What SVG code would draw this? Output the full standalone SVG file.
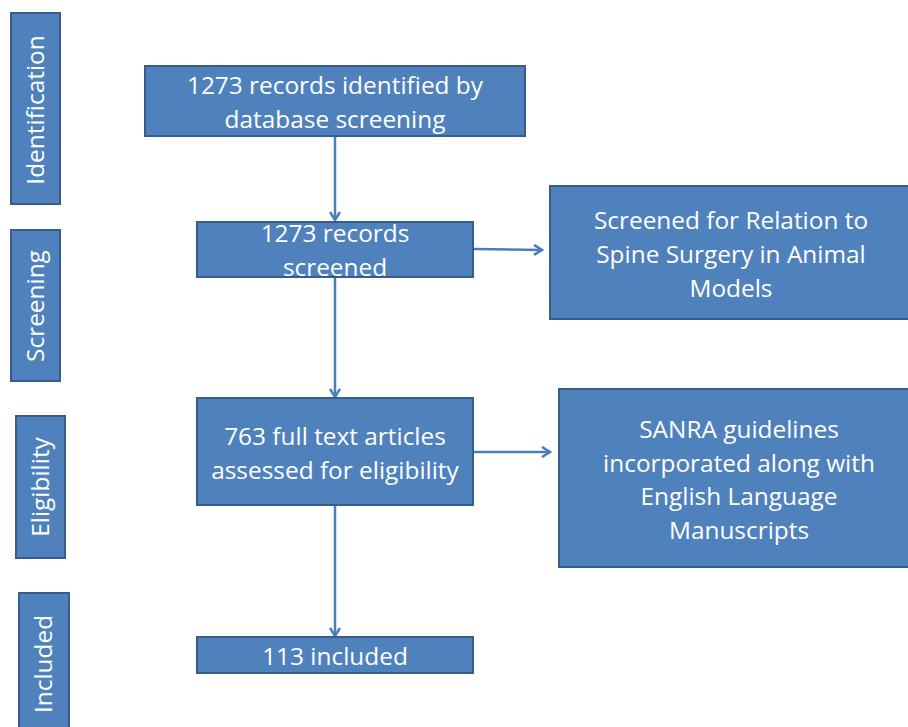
<svg xmlns="http://www.w3.org/2000/svg" width="908" height="727" viewBox="0 0 908 727">
<defs>
<style>
.box{fill:#4F81BD;stroke:#385D8A;stroke-width:2}
.t{fill:#fff;font-family:"Open Sans","Noto Sans",sans-serif;font-size:24.4px;text-anchor:middle}
.c{fill:none;stroke:#4A7EBB;stroke-width:2.5}
</style>
<marker id="ah" viewBox="0 0 12 12" refX="10" refY="6" markerWidth="12" markerHeight="12" markerUnits="userSpaceOnUse" orient="auto">
<polyline points="2,1 10,6 2,11" fill="none" stroke="#4A7EBB" stroke-width="2.5"/>
</marker>
</defs>
<rect width="908" height="727" fill="#fff"/>
<g id="stage-identification"><rect class="box" x="11" y="13" width="49" height="191"/><text class="t" transform="translate(44,110) rotate(-90)">Identification</text></g>
<g id="stage-screening"><rect class="box" x="11" y="230" width="49" height="151"/><text class="t" transform="translate(44,306) rotate(-90)">Screening</text></g>
<g id="stage-eligibility"><rect class="box" x="16" y="416" width="49" height="142"/><text class="t" transform="translate(49,487) rotate(-90)">Eligibility</text></g>
<g id="stage-included"><rect class="box" x="19" y="593" width="50" height="140"/><text class="t" transform="translate(52,664) rotate(-90)">Included</text></g>
<g id="connectors">
<line class="c" x1="335" y1="137" x2="335" y2="220" marker-end="url(#ah)"/>
<line class="c" x1="335" y1="277" x2="335" y2="397" marker-end="url(#ah)"/>
<line class="c" x1="335" y1="505" x2="335" y2="636" marker-end="url(#ah)"/>
<line class="c" x1="473" y1="249" x2="542" y2="250" marker-end="url(#ah)"/>
<line class="c" x1="473" y1="452" x2="550" y2="452" marker-end="url(#ah)"/>
</g>
<g id="n1"><rect class="box" x="145" y="66" width="380" height="70"/><text class="t" x="335" y="94">1273 records identified by</text><text class="t" x="335" y="128">database screening</text></g>
<g id="n2"><rect class="box" x="197" y="222" width="276" height="55"/><text class="t" x="335" y="242">1273 records</text><text class="t" x="335" y="276">screened</text></g>
<g id="n3"><rect class="box" x="550" y="186" width="370" height="133"/><text class="t" x="731" y="229">Screened for Relation to</text><text class="t" x="731" y="263">Spine Surgery in Animal</text><text class="t" x="731" y="297">Models</text></g>
<g id="n4"><rect class="box" x="197" y="398" width="276" height="107"/><text class="t" x="335" y="445">763 full text articles</text><text class="t" x="335" y="479">assessed for eligibility</text></g>
<g id="n5"><rect class="box" x="559" y="389" width="360" height="178"/><text class="t" x="739" y="438">SANRA guidelines</text><text class="t" x="739" y="472">incorporated along with</text><text class="t" x="739" y="505">English Language</text><text class="t" x="739" y="539">Manuscripts</text></g>
<g id="n6"><rect class="box" x="197" y="637" width="276" height="36"/><text class="t" x="335" y="665">113 included</text></g>
</svg>
